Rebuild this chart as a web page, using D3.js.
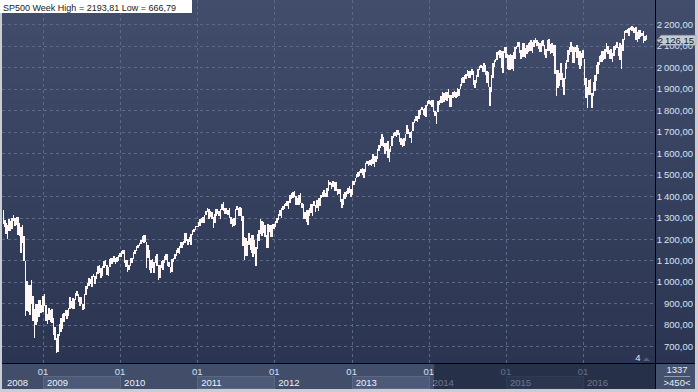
<!DOCTYPE html>
<meta charset="utf-8">
<style>
	body { margin: 0; background: #d4d0c8; }
	svg { display: block; font-family: "Liberation Sans", Arial, sans-serif; }
</style>
<body></body>
<script src="https://d3js.org/d3.v7.min.js"></script>
<script>

	// weekly S&P 500 high / low, one value per week (week ending Friday)
	var firstFriday = new Date(2008, 5, 27);
	var lastFriday = new Date(2016, 9, 28);

	var hi2008 = [1335,1290,1273,1263,1291,1284,1297,1313,1300,1301,1304,1274,1255,1265,1215,1098,1006,985,984,1007,933,874,896,896,918,918,891];
	var lo2008 = [1272,1257,1225,1200,1239,1235,1248,1283,1261,1264,1217,1212,1134,1180,1099,840,866,862,845,899,818,741,800,815,837,857,857];

	var hi2009 = [934,944,891,851,877,870,876,834,790,741,759,803,833,852,857,870,871,880,930,909,924,920,948,956,946,930,931,898,942,979,996,1018,1013,1027,1039,1029,1048,1074,1080,1063,1076,1096,1101,1081,1071,1105,1113,1112,1119,1110,1118,1127];
	var lo2009 = [858,888,817,804,821,812,808,754,731,667,672,746,768,779,814,843,826,842,875,879,876,873,917,934,905,888,895,869,875,937,965,983,991,978,1022,992,1015,1036,1041,1020,1026,1066,1074,1033,1029,1068,1085,1083,1092,1085,1095,1098];

	var hi2010 = [1133,1145,1150,1150,1104,1104,1080,1112,1112,1139,1151,1169,1174,1181,1195,1214,1217,1220,1187,1173,1150,1103,1105,1092,1120,1131,1077,1078,1099,1103,1120,1128,1130,1094,1070,1105,1110,1131,1149,1158,1167,1184,1185,1189,1228,1227,1200,1207,1225,1241,1246,1259,1262];
	var lo2010 = [1114,1116,1131,1090,1071,1044,1056,1075,1086,1105,1132,1144,1160,1166,1175,1187,1180,1184,1066,1112,1056,1040,1063,1043,1089,1072,1011,1018,1064,1056,1088,1101,1076,1069,1040,1047,1092,1107,1122,1135,1132,1159,1160,1171,1180,1193,1174,1185,1174,1220,1232,1242,1254];

	var hi2011 = [1278,1294,1296,1302,1311,1330,1344,1342,1332,1325,1303,1315,1338,1339,1329,1339,1365,1371,1346,1346,1334,1346,1302,1292,1298,1341,1356,1343,1347,1346,1308,1209,1205,1190,1230,1205,1220,1220,1195,1165,1225,1240,1293,1285,1277,1267,1219,1268,1267,1265,1268,1269];
	var lo2011 = [1257,1262,1276,1275,1276,1311,1324,1294,1303,1291,1249,1275,1306,1318,1309,1295,1333,1332,1318,1318,1311,1297,1268,1258,1262,1265,1335,1309,1306,1284,1168,1102,1122,1121,1172,1149,1136,1114,1131,1075,1155,1191,1224,1215,1226,1209,1158,1158,1232,1210,1209,1248];

	var hi2012 = [1285,1296,1316,1333,1346,1354,1363,1368,1379,1376,1405,1414,1420,1422,1399,1392,1407,1415,1370,1364,1328,1334,1335,1343,1363,1363,1375,1357,1381,1389,1392,1406,1420,1427,1414,1438,1475,1466,1460,1470,1465,1464,1434,1432,1434,1388,1409,1419,1422,1438,1448,1431];
	var lo2012 = [1258,1274,1290,1306,1300,1336,1340,1354,1355,1340,1369,1387,1391,1394,1357,1358,1358,1367,1343,1292,1291,1277,1267,1307,1323,1309,1352,1325,1345,1329,1355,1391,1398,1398,1397,1396,1425,1451,1434,1441,1425,1424,1403,1408,1373,1343,1359,1385,1398,1411,1413,1398];

	var hi2013 = [1470,1472,1486,1503,1514,1519,1525,1531,1526,1552,1564,1564,1570,1574,1597,1589,1586,1618,1636,1668,1687,1674,1648,1648,1655,1620,1632,1680,1693,1698,1710,1709,1694,1670,1664,1671,1689,1730,1711,1700,1703,1745,1760,1775,1774,1799,1804,1813,1806,1812,1823,1844];
	var lo2013 = [1403,1451,1465,1484,1490,1495,1508,1497,1486,1514,1549,1538,1546,1540,1549,1536,1557,1575,1611,1623,1635,1630,1598,1608,1578,1560,1604,1632,1672,1680,1677,1684,1654,1639,1627,1633,1656,1691,1687,1670,1646,1703,1740,1752,1746,1761,1780,1799,1780,1772,1767,1819];

	var hi2014 = [1849,1843,1850,1850,1798,1794,1841,1846,1867,1883,1879,1883,1885,1897,1872,1869,1884,1891,1885,1902,1901,1924,1950,1956,1964,1968,1986,1985,1984,1991,1985,1942,1964,1994,2005,2012,2008,2019,2011,1985,1978,1906,1965,2018,2034,2041,2071,2076,2079,2077,2077,2094];
	var lo2014 = [1828,1823,1815,1790,1771,1738,1791,1824,1834,1834,1840,1850,1842,1856,1814,1816,1857,1860,1859,1862,1868,1897,1915,1929,1925,1944,1958,1952,1952,1965,1916,1905,1928,1954,1989,1997,1980,1979,1965,1926,1906,1821,1883,1950,2001,2025,2034,2057,2042,1999,1973,2069];

	var hi2015 = [2093,2064,2056,2064,2058,2072,2097,2101,2119,2117,2080,2114,2115,2089,2103,2111,2120,2126,2118,2126,2135,2129,2117,2115,2121,2129,2102,2085,2129,2133,2110,2113,2105,2105,1989,1987,1975,2021,1974,1951,2020,2034,2080,2094,2116,2100,2097,2095,2104,2090,2077,2068];
	var lo2015 = [2045,1992,1988,1988,1990,1981,2041,2085,2094,2067,2040,2049,2046,2045,2060,2073,2078,2074,2067,2093,2114,2100,2085,2073,2072,2101,2056,2044,2077,2077,2063,2067,2052,1971,1867,1903,1911,1939,1908,1872,1946,1990,2023,2059,2070,2022,2019,2070,2042,2012,1993,2005];

	var hi2016 = [2081,2038,1950,1908,1940,1947,1882,1930,1962,2009,2023,2053,2056,2075,2075,2084,2111,2099,2083,2084,2065,2100,2103,2120,2097,2113,2103,2132,2169,2175,2178,2183,2188,2194,2187,2185,2188,2163,2175,2175,2162,2169,2148,2152];
	var lo2016 = [2043,1918,1857,1812,1872,1872,1810,1865,1891,1937,1969,2012,2023,2023,2034,2039,2071,2062,2040,2039,2026,2053,2083,2092,2051,2033,1992,2075,2129,2160,2159,2148,2176,2169,2160,2158,2127,2119,2131,2139,2144,2114,2124,2126];

	var yTicks = [700,800,900,1000,1100,1200,1300,1400,1500,1600,1700,1800,1900,2000,2100,2200];
	var yearLabels = ["2008","2009","2010","2011","2012","2013","2014","2015","2016"];
	var titleText = "SP500 Week High = 2193,81 Low = 666,79";
	var lastPrice = 2126.15;
	var infoTop = "1337", infoBottom = ">450<", pageNo = "4";

	var highs = [].concat(hi2008, hi2009, hi2010, hi2011, hi2012, hi2013, hi2014, hi2015, hi2016);
	var lows = [].concat(lo2008, lo2009, lo2010, lo2011, lo2012, lo2013, lo2014, lo2015, lo2016);
	var fridays = d3.timeFriday.range(firstFriday, d3.timeDay.offset(lastFriday, 1));
	var n = Math.min(fridays.length, highs.length, lows.length);
	var weeks = [];
	for (var i = 0; i < n; i++) {
		weeks.push({date: fridays[i], high: highs[i], low: lows[i]});
	}

	var W = 698, H = 392;
	var plot = {left: 2, right: 655, top: 0, bottom: 363};

	var x = d3.scaleTime()
		.domain([new Date(2009, 0, 1), new Date(2016, 0, 1)])
		.range([43, 583]);

	var y = d3.scaleLinear()
		.domain([700, 2200])
		.range([346.3, 24.4]);

	var fmt = d3.formatLocale({decimal: ",", thousands: "\u2009", grouping: [3], currency: ["", ""]}).format(",.2f");

	var svg = d3.select("body").append("svg")
		.attr("width", W)
		.attr("height", H);

	var defs = svg.append("defs");
	var grad = defs.append("linearGradient")
		.attr("id", "bg")
		.attr("x1", 0).attr("y1", 0).attr("x2", 0).attr("y2", 1);
	grad.append("stop").attr("offset", "0%").attr("stop-color", "#414d6b");
	grad.append("stop").attr("offset", "100%").attr("stop-color", "#2b3552");

	defs.append("clipPath").attr("id", "clip")
		.append("rect")
		.attr("x", plot.left).attr("y", plot.top)
		.attr("width", plot.right - plot.left).attr("height", plot.bottom - plot.top);

	// frame
	svg.append("rect").attr("width", W).attr("height", H).attr("fill", "#c9cdd4");

	// plot + right axis background
	svg.append("rect")
		.attr("x", plot.left).attr("y", 0)
		.attr("width", 695 - plot.left).attr("height", plot.bottom)
		.attr("fill", "url(#bg)");

	// grid
	var yearStarts = d3.timeYear.range(new Date(2009, 0, 1), new Date(2017, 0, 1));

	svg.append("g").selectAll("line")
		.data(yTicks)
		.join("line")
		.attr("x1", plot.left).attr("x2", plot.right)
		.attr("y1", function(d) { return Math.round(y(d)) + 0.5; })
		.attr("y2", function(d) { return Math.round(y(d)) + 0.5; })
		.attr("stroke", "#5b6886")
		.attr("stroke-dasharray", "3,3");

	svg.append("g").selectAll("line")
		.data(yearStarts)
		.join("line")
		.attr("x1", function(d) { return Math.round(x(d)) + 0.5; })
		.attr("x2", function(d) { return Math.round(x(d)) + 0.5; })
		.attr("y1", plot.top).attr("y2", plot.bottom)
		.attr("stroke", "#5b6886")
		.attr("stroke-dasharray", "3,3");

	// weekly high-low bars
	svg.append("g")
		.attr("clip-path", "url(#clip)")
		.attr("shape-rendering", "crispEdges")
		.selectAll("rect")
		.data(weeks)
		.join("rect")
		.attr("x", function(d) { return x(d.date) - 0.75; })
		.attr("y", function(d) { return y(d.high); })
		.attr("width", 1.5)
		.attr("height", function(d) { return Math.max(1, y(d.low) - y(d.high)); })
		.attr("fill", "#fff7f5");

	// right axis
	var yAxis = d3.axisRight(y)
		.tickValues(yTicks)
		.tickFormat(fmt)
		.tickSize(0);

	var ax = svg.append("g")
		.attr("transform", "translate(" + plot.right + ",0)")
		.call(yAxis);
	ax.select(".domain").remove();
	ax.selectAll("text")
		.attr("x", 38)
		.attr("text-anchor", "end")
		.attr("fill", "#d8e3f6")
		.attr("font-size", "9.5px")
		.attr("font-family", "'Liberation Sans', Arial, sans-serif");

	// last price tag
	var py = y(lastPrice);
	var tag = svg.append("g");
	tag.append("path")
		.attr("d", "M657," + py + " L661," + (py - 5) + " L696," + (py - 5) + " L696," + (py + 5) + " L661," + (py + 5) + " Z")
		.attr("fill", "#c6cad2")
		.attr("stroke", "#8d96a8")
		.attr("stroke-width", 0.5);
	tag.append("text")
		.attr("x", 694).attr("y", py + 3.5)
		.attr("text-anchor", "end")
		.attr("font-size", "9.5px")
		.attr("fill", "#111a2a")
		.text(fmt(lastPrice));

	// bottom time panel
	var bottom = svg.append("g");
	bottom.append("rect")
		.attr("x", plot.left).attr("y", plot.bottom)
		.attr("width", 693).attr("height", 389 - plot.bottom)
		.attr("fill", "#414d69");

	var boxYears = yearStarts.filter(function(d, i) { return i % 2 === 0 && i < 7; });
	bottom.selectAll("rect.box")
		.data(boxYears)
		.join("rect")
		.attr("class", "box")
		.attr("x", function(d) { return Math.round(x(d)) + 0.5; })
		.attr("y", 376.5)
		.attr("width", function(d) { return Math.round(x(d3.timeYear.offset(d, 1))) - Math.round(x(d)); })
		.attr("height", 12)
		.attr("fill", "#4c5977")
		.attr("stroke", "#5a6782");

	bottom.selectAll("text.mon")
		.data(yearStarts.slice(0, 8))
		.join("text")
		.attr("class", "mon")
		.attr("x", function(d) { return x(d); })
		.attr("y", 375)
		.attr("text-anchor", "middle")
		.attr("font-size", "9.5px")
		.attr("fill", "#d3e0f6")
		.text("01");

	bottom.selectAll("text.yr")
		.data(yearLabels)
		.join("text")
		.attr("class", "yr")
		.attr("x", function(d, i) { return i === 0 ? 7 : x(yearStarts[i - 1]) + 4; })
		.attr("y", 386)
		.attr("font-size", "9.5px")
		.attr("fill", "#eef2fa")
		.text(function(d) { return d; });

	// dimmed part of the time panel
	bottom.append("rect")
		.attr("x", 434).attr("y", plot.bottom)
		.attr("width", plot.right - 434).attr("height", 389 - plot.bottom)
		.attr("fill", "#161e34")
		.attr("opacity", 0.6);

	// axis separators
	svg.append("line")
		.attr("x1", plot.left).attr("x2", 695)
		.attr("y1", plot.bottom + 0.5).attr("y2", plot.bottom + 0.5)
		.attr("stroke", "#000");
	svg.append("line")
		.attr("x1", plot.right + 0.5).attr("x2", plot.right + 0.5)
		.attr("y1", 0).attr("y2", 389)
		.attr("stroke", "#000");

	// info box bottom right
	svg.append("rect")
		.attr("x", plot.right + 1).attr("y", plot.bottom + 1)
		.attr("width", 695 - plot.right - 1).attr("height", 389 - plot.bottom - 1)
		.attr("fill", "#45526e");
	svg.append("text")
		.attr("x", 677).attr("y", 373)
		.attr("text-anchor", "middle")
		.attr("font-size", "9.5px")
		.attr("fill", "#e6ecf6")
		.text(infoTop);
	svg.append("line")
		.attr("x1", 664).attr("x2", 690)
		.attr("y1", 376.5).attr("y2", 376.5)
		.attr("stroke", "#8e9ab0");
	svg.append("text")
		.attr("x", 677).attr("y", 386)
		.attr("text-anchor", "middle")
		.attr("font-size", "9.5px")
		.attr("fill", "#e6ecf6")
		.text(infoBottom);

	// page marker
	svg.append("text")
		.attr("x", 638).attr("y", 361)
		.attr("text-anchor", "middle")
		.attr("font-size", "9.5px")
		.attr("fill", "#dfe7f5")
		.text(pageNo);
	svg.append("path")
		.attr("d", "M643,361 L646.5,357.5 L650,361 Z")
		.attr("fill", "#56627c");

	// title
	svg.append("rect")
		.attr("x", 0).attr("y", 0)
		.attr("width", 192).attr("height", 13)
		.attr("fill", "#ffffff");
	svg.append("text")
		.attr("x", 3).attr("y", 10.5)
		.attr("font-size", "9px")
		.attr("fill", "#1a1a1a")
		.text(titleText);

</script>
